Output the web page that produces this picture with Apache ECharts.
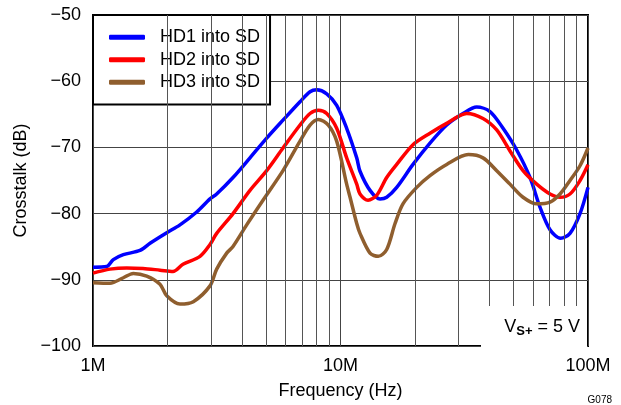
<!DOCTYPE html>
<html>
<head>
<meta charset="utf-8">
<script src="https://cdn.jsdelivr.net/npm/echarts@6/dist/echarts.min.js"></script>
<style>html,body{margin:0;padding:0;background:#fff}#c{width:621px;height:405px}</style>
</head>
<body>
<div id="c"></div>
<script>
// Frequency in MHz, crosstalk in dB
var freqHD1 = [1.00,1.136,1.208,1.326,1.548,1.70,1.986,2.246,2.624,2.97,3.16,3.679,4.308,5.032,5.857,6.862,7.532,8.014,8.796,9.652,10.59,11.63,11.99,13.16,14.44,15.37,16.87,19.63,22.99,26.86,31.26,35.51,40.18,45.37,51.51,58.31,63.97,70.24,77.5,84.58,92.84,100];
var dbHD1   = [-88.1,-88.0,-86.95,-86.2,-85.57,-84.48,-82.89,-81.7,-79.76,-77.78,-77.04,-74.55,-71.58,-68.6,-65.88,-63.1,-61.6,-61.31,-61.9,-63.65,-67.11,-71.58,-73.6,-76.49,-77.78,-77.53,-76.04,-72.57,-69.35,-66.62,-64.88,-63.91,-64.58,-67.11,-70.39,-74.55,-79.02,-82.44,-83.74,-82.99,-80.01,-76.04];

var freqHD2 = [1.00,1.171,1.369,1.592,1.865,2.105,2.31,2.706,2.97,3.16,3.679,4.308,5.032,5.857,6.862,7.532,8.135,8.796,9.652,10.59,11.63,11.99,12.92,14.01,15.37,16.87,19.63,22.99,26.86,32.36,37.64,42.77,48.40,54.63,62.05,70.24,77.08,84.58,92.84,100];
var dbHD2   = [-89.0,-88.39,-88.2,-88.29,-88.54,-88.74,-87.65,-86.46,-84.67,-82.99,-80.0,-76.49,-73.51,-70.09,-66.62,-64.88,-64.39,-64.88,-67.11,-71.58,-75.55,-77.04,-77.98,-77.23,-74.55,-72.57,-69.6,-67.86,-66.37,-64.88,-65.63,-67.37,-70.54,-73.51,-75.55,-77.04,-77.53,-77.04,-75.0,-72.62];

var freqHD3 = [1.00,1.171,1.326,1.455,1.648,1.865,1.986,2.246,2.543,2.97,3.16,3.469,3.679,4.178,4.862,5.857,6.862,7.532,8.135,8.928,9.652,10.59,10.93,11.63,11.99,13.16,14.21,15.37,16.61,17.88,20.32,22.99,26.86,32.85,37.64,42.77,48.40,54.63,62.05,70.24,77.08,84.58,92.84,100];
var dbHD3   = [-90.43,-90.52,-89.69,-89.03,-89.43,-90.67,-92.41,-93.65,-93.3,-90.92,-88.39,-85.97,-84.97,-81.7,-77.98,-73.51,-69.05,-66.62,-65.77,-66.62,-69.05,-75.55,-77.53,-81.5,-82.99,-85.97,-86.46,-85.42,-81.5,-78.53,-76.04,-74.26,-72.57,-71.09,-71.58,-73.51,-75.55,-77.53,-78.53,-78.27,-77.04,-75.0,-72.77,-70.09];

var seriesNames = ['HD1 into SD','HD2 into SD','HD3 into SD'];
var seriesColors = ['#0000FF','#FF0000','#8F5E2E'];
var xTickLabels = {1:'1M',10:'10M',100:'100M'};
var minorGridFreqs = [2,3,4,5,6,7,8,9,20,30,40,50,60,70,80,90];

function pairs(f, d){ return f.map(function(v,i){return [v,d[i]];}); }
var FONT = 'Liberation Sans, Arial, sans-serif';

var chart = echarts.init(document.getElementById('c'), null, {renderer:'canvas'});
var option = {
  animation:false,
  backgroundColor:'#fff',
  grid:{left:93,right:33,top:15,bottom:54,show:true,borderColor:'#000',borderWidth:2,backgroundColor:'transparent'},
  xAxis:{
    type:'log', logBase:10, min:1, max:100,
    axisLine:{show:false}, axisTick:{show:false},
    splitLine:{show:true,lineStyle:{color:'#444',width:1}},
    axisLabel:{color:'#000',fontSize:18,fontFamily:FONT,margin:11,formatter:function(v){return xTickLabels[Math.round(v)]||'';}},
    name:'Frequency (Hz)', nameLocation:'middle', nameGap:36,
    nameTextStyle:{color:'#000',fontSize:18,fontFamily:FONT}
  },
  yAxis:{
    type:'value', min:-100, max:-50, interval:10,
    axisLine:{show:false}, axisTick:{show:false},
    splitLine:{show:true,lineStyle:{color:'#444',width:1}},
    axisLabel:{color:'#000',fontSize:18,fontFamily:FONT,margin:12,formatter:function(v){return String(v).replace('-','\u2212');}},
    name:'Crosstalk (dB)', nameLocation:'middle', nameGap:61, nameRotate:90,
    nameTextStyle:{color:'#000',fontSize:18,fontFamily:FONT}
  },
  legend:{
    data:seriesNames, orient:'vertical', left:93, top:15,
    backgroundColor:'#fff', borderColor:'#000', borderWidth:2, borderRadius:0,
    padding:[12,10,12,16], itemWidth:36, itemHeight:5, itemGap:2, icon:'roundRect',
    textStyle:{color:'#000',fontSize:18,fontFamily:FONT,lineHeight:20.5,padding:[0,0,0,10]}
  },
  series:[
    {type:'line',name:'grid',data:[],z:1,silent:true,
     markLine:{silent:true,symbol:'none',label:{show:false},animation:false,
       lineStyle:{color:'#555',width:1,type:'solid'},
       data:minorGridFreqs.map(function(v){return {xAxis:v};})}}
  ].concat(seriesNames.map(function(n,i){
    var src=[[freqHD1,dbHD1],[freqHD2,dbHD2],[freqHD3,dbHD3]][i];
    return {type:'line',name:n,data:pairs(src[0],src[1]),smooth:0.3,showSymbol:false,z:3,
      lineStyle:{color:seriesColors[i],width:3.5},itemStyle:{color:seriesColors[i]}};
  })),
  graphic:[
    {type:'rect',shape:{x:481,y:306,width:106,height:44},style:{fill:'#fff'},z:50},
    {type:'text',x:580,y:327,z:51,style:{
      text:'{a|V}{b|S+}{a| = 5 V}', align:'right', verticalAlign:'middle',
      rich:{a:{fontSize:18,fontFamily:FONT,fill:'#000',lineHeight:22},
            b:{fontSize:13,fontWeight:'bold',fontFamily:FONT,fill:'#000',lineHeight:22,padding:[9,0,0,0]}}}},
    {type:'text',x:612,y:400,z:51,style:{text:'G078',align:'right',verticalAlign:'middle',fontSize:10,fontFamily:FONT,fill:'#000'}}
  ]
};
chart.setOption(option);
</script>
</body>
</html>
